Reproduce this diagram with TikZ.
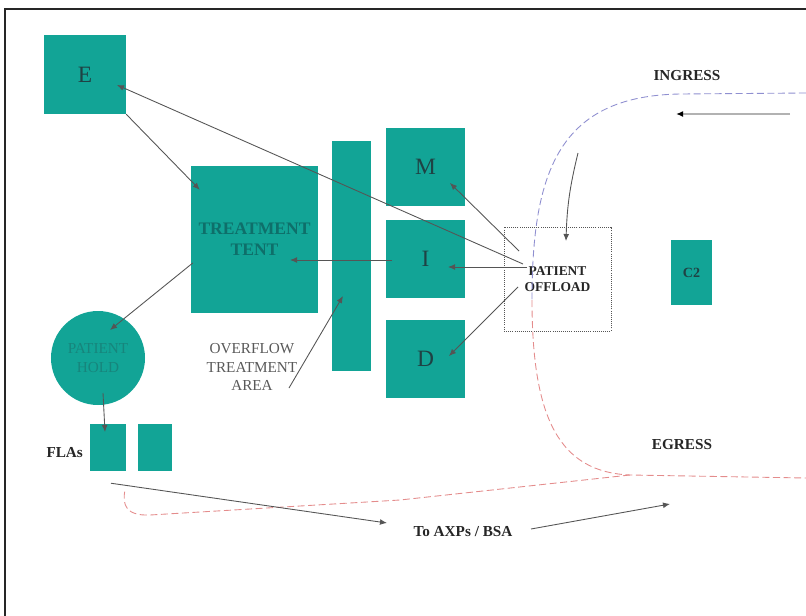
\documentclass[tikz,border=0pt]{standalone}
\usepackage{fontspec}
\setmainfont{Liberation Serif}
\usetikzlibrary{arrows.meta, positioning, calc}
\definecolor{tentTeal}{HTML}{12A496}
\definecolor{boxText}{HTML}{1F4244}
\definecolor{tentText}{HTML}{0E6F6A}
\definecolor{holdText}{HTML}{17857C}
\definecolor{linkGray}{HTML}{555555}
\definecolor{ingressBlue}{HTML}{8F8FD0}
\definecolor{egressRed}{HTML}{E48C8C}
\definecolor{frameGray}{HTML}{262626}

\begin{document}
\begin{tikzpicture}[x=0.03cm, y=-0.03cm,
    area/.style={rectangle, fill=tentTeal, inner sep=0pt, text=boxText},
    letter/.style={area, font=\fontsize{20}{24}\selectfont},
    tag/.style={font=\fontsize{13}{15}\selectfont\bfseries, text=black!85},
    flow/.style={draw=linkGray, line width=0.75pt, -{Latex[length=6pt,width=5pt]}},
    route/.style={line width=0.75pt, dash pattern=on 6pt off 3pt}]
  \useasboundingbox (0,0) rectangle (806,616);
  % --- marco ---
  \draw[frameGray, line width=2.4pt] (5,616) -- (5,9) -- (806,9);

  % --- zonas ---
  \node[letter, minimum width=2.46cm, minimum height=2.37cm] (e) at (85,74.5) {E};
  \node[area, minimum width=3.81cm, minimum height=4.41cm, align=center, text=tentText,
        font=\fontsize{15}{18}\selectfont\bfseries] (tent) at (254.5,239.5) {TREATMENT\\TENT};
  \node[area, minimum width=1.17cm, minimum height=6.9cm] (bar) at (351.5,256) {};
  \node[letter, minimum width=2.37cm, minimum height=2.34cm] (m) at (425.5,167) {M};
  \node[letter, minimum width=2.37cm, minimum height=2.34cm] (i) at (425.5,258.5) {I};
  \node[letter, minimum width=2.37cm, minimum height=2.34cm] (d) at (425.5,358.5) {D};
  \node[rectangle, draw=linkGray, densely dotted, line width=0.8pt, minimum width=3.21cm,
        minimum height=3.12cm, align=center, font=\fontsize{11.5}{14}\selectfont\bfseries,
        text=black!85] (offload) at (557.5,279) {PATIENT\\OFFLOAD};
  \node[area, minimum width=1.23cm, minimum height=1.95cm,
        font=\fontsize{12}{14}\selectfont\bfseries] (c2) at (691.5,272.5) {C2};
  \node[circle, fill=tentTeal, minimum size=2.82cm, inner sep=0pt, align=center,
        text=holdText, font=\fontsize{13}{16}\selectfont] (hold) at (98,358) {PATIENT\\HOLD};
  \node[area, minimum width=1.08cm, minimum height=1.41cm] (fla1) at (108,447.5) {};
  \node[area, minimum width=1.02cm, minimum height=1.41cm] (fla2) at (155,447.5) {};

  % --- textos ---
  \node[tag] (flas) at (64.7,453) {FLAs};
  \node[align=center, text=black!65, font=\fontsize{13}{16}\selectfont] (overflow) at (252,367)
        {OVERFLOW\\TREATMENT\\AREA};
  \node[tag] (ingress) at (687,76) {INGRESS};
  \node[tag] (egress) at (682,445) {EGRESS};
  \node[tag] (axps) at (463,532) {To AXPs / BSA};

  % --- rutas de entrada y salida ---
  \draw[route, ingressBlue] (806,93) -- (680,94) .. controls (560,96) and (532,170) .. (532,300);
  \draw[route, egressRed] (532,300) .. controls (532,420) and (560,472) .. (630,475) -- (806,478);
  \draw[route, egressRed] (630,475) -- (400,500) -- (150,515)
        .. controls (126,516) and (122,505) .. (125,490);

  % --- flujos ---
  \coordinate (ingStart) at (790,114);
  \coordinate (ingEnd) at (676,114);
  \coordinate (dropStart) at (578,153);
  \coordinate (axpsEnd) at (670,504);
  \draw[draw=black!30, line width=1.6pt, -{Latex[length=6pt,width=5pt,color=black]}]
        (ingStart) -- (ingEnd);
  \draw[flow] (dropStart) to[bend right=6] ([shift={(8.5,-38)}]offload.center);
  \draw[flow] ([shift={(-34.5,-15)}]offload.center) -- ([shift={(32,10.5)}]e.center);
  \draw[flow] ([shift={(-38.5,-28)}]offload.center) -- ([shift={(24.5,16)}]m.center);
  \draw[flow] ([shift={(-30.5,-12)}]offload.center) -- ([shift={(22.5,8.5)}]i.center);
  \draw[flow] ([shift={(-39.5,8)}]offload.center) -- ([shift={(23.5,-2.5)}]d.center);
  \draw[flow] ([shift={(-33.5,1.5)}]i.center) -- ([shift={(35.5,20.5)}]tent.center);
  \draw[flow] (e.south east) -- ([shift={(9,24)}]tent.north west);
  \draw[flow] ([shift={(2,23.5)}]tent.west) -- ([shift={(12,-28)}]hold.center);
  \draw[flow] ([shift={(5,35)}]hold.center) -- ([shift={(-3,-15.5)}]fla1.center);
  \draw[flow] ([shift={(37,21)}]overflow.center) -- ([shift={(-8.5,40)}]bar.center);
  \draw[flow] ([shift={(3,12)}]fla1.south) -- ([shift={(-76,-9)}]axps.center);
  \draw[flow] ([shift={(68,-3)}]axps.center) -- (axpsEnd);
\end{tikzpicture}
\end{document}
